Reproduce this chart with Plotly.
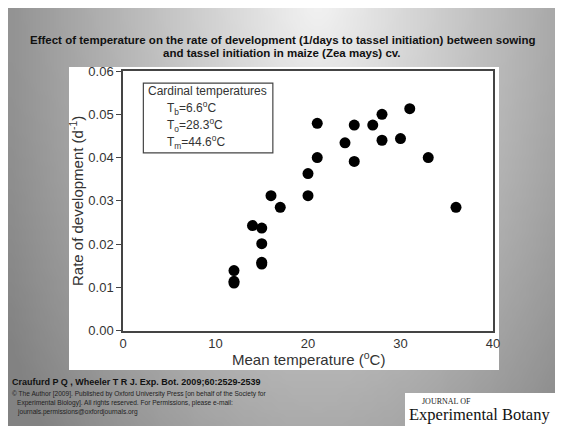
import base64
import struct
import zlib

import plotly.graph_objects as go

W, H = 563, 426
PAGE_OFFSET = 8  # default body margin of the html page

# data
temperature = [12, 12, 12, 14, 15, 15, 15, 15, 16, 17, 20, 20, 21, 21,
               24, 25, 25, 27, 28, 28, 30, 31, 33, 36]
rate = [0.0139, 0.0114, 0.0110, 0.0243, 0.0237, 0.0201, 0.0158, 0.0154,
        0.0312, 0.0285, 0.0363, 0.0312, 0.0479, 0.0400, 0.0434, 0.0475,
        0.0391, 0.0475, 0.0500, 0.0440, 0.0444, 0.0513, 0.0400, 0.0285]
x_ticks = [0, 10, 20, 30, 40]
y_ticks = [0.00, 0.01, 0.02, 0.03, 0.04, 0.05, 0.06]
cardinal_lines = ["T<sub>b</sub>=6.6<sup>o</sup>C",
                  "T<sub>o</sub>=28.3<sup>o</sup>C",
                  "T<sub>m</sub>=44.6<sup>o</sup>C"]
title_lines = [
    "Effect of temperature on the rate of development (1/days to tassel initiation) between sowing",
    "and tassel initiation in maize (Zea mays) cv.",
]
copyright_lines = [
    "© The Author [2009]. Published by Oxford University Press [on behalf of the Society for",
    "Experimental Biology]. All rights reserved. For Permissions, please e-mail:",
    "journals.permissions@oxfordjournals.org",
]


def _gradient_png(w=80, h=60):
    """Small grey radial gradient as a PNG data URI (slide background)."""
    rows = b""
    for j in range(h):
        rows += b"\x00"
        for i in range(w):
            dx = (i / (w - 1) - 0.55) / 0.6
            dy = (j / (h - 1) + 0.05) / 1.5
            d = (dx * dx + dy * dy) ** 0.5
            v = int(max(130, min(242, 244 - 105 * d)))
            rows += bytes((v, v, v))

    def chunk(tag, data):
        c = tag + data
        return struct.pack(">I", len(data)) + c + struct.pack(">I", zlib.crc32(c) & 0xffffffff)

    png = b"\x89PNG\r\n\x1a\n"
    png += chunk(b"IHDR", struct.pack(">IIBBBBB", w, h, 8, 2, 0, 0, 0))
    png += chunk(b"IDAT", zlib.compress(rows, 9))
    png += chunk(b"IEND", b"")
    return "data:image/png;base64," + base64.b64encode(png).decode()


def px_x(p):
    return (p - PAGE_OFFSET) / W


def px_y(p):
    return 1 - (p - PAGE_OFFSET) / H


fig = go.Figure(go.Scatter(
    x=temperature, y=rate, mode="markers",
    marker=dict(color="black", size=11),
    showlegend=False,
))

axis_common = dict(
    showgrid=False, zeroline=False, showline=True, mirror=True, automargin=False,
    linecolor="#444", linewidth=1.5, ticks="outside", ticklen=5,
    tickcolor="#444", tickfont=dict(family="Liberation Sans", size=13, color="#333"),
)

fig.update_layout(
    width=W, height=H,
    autosize=False,
    margin=dict(l=0, r=0, t=0, b=0, pad=0),
    paper_bgcolor="#b0b0b0",
    plot_bgcolor="rgba(0,0,0,0)",
    xaxis=dict(axis_common, range=[0, 40], tickvals=x_ticks, ticks="",
               domain=[px_x(123), px_x(493)]),
    yaxis=dict(axis_common, range=[0, 0.06], tickvals=y_ticks, tickformat=".2f",
               domain=[px_y(330.7), px_y(71)]),
    images=[dict(
        source=_gradient_png(), xref="paper", yref="paper",
        x=0, y=1, sizex=1, sizey=1, sizing="stretch", layer="below",
    )],
    shapes=[
        # white slide panel behind the chart
        dict(type="rect", xref="paper", yref="paper", layer="below",
             x0=px_x(69), x1=px_x(499), y0=px_y(370), y1=px_y(67),
             fillcolor="white", line=dict(width=0)),
        # cardinal temperatures box
        dict(type="rect", xref="x", yref="y",
             x0=2.2, x1=16.2, y0=0.0411, y1=0.0572,
             line=dict(color="#444", width=1.2)),
        # journal logo panel
        dict(type="rect", xref="paper", yref="paper",
             x0=px_x(405), x1=px_x(561), y0=px_y(426), y1=px_y(393),
             fillcolor="white", line=dict(width=0)),
    ],
)

annotations = [
    dict(text="<b>%s</b>" % title_lines[0], x=px_x(282), y=px_y(39.5), xanchor="center",
         font=dict(size=11.5, color="#111")),
    dict(text="<b>%s</b>" % title_lines[1], x=px_x(282), y=px_y(53), xanchor="center",
         font=dict(size=11.5, color="#111")),
    dict(text="Mean temperature (<sup>o</sup>C)", x=px_x(308), y=px_y(358), xanchor="center",
         font=dict(size=15, color="#333")),
    dict(text="Rate of development (d<sup>-1</sup>)", x=px_x(76), y=px_y(201), xanchor="center",
         textangle=-90, font=dict(size=15, color="#333")),
    dict(text="Cardinal temperatures", x=px_x(146), y=px_y(91),
         font=dict(size=12, color="#333")),
    dict(text="<b>Craufurd P Q , Wheeler T R J. Exp. Bot. 2009;60:2529-2539</b>",
         x=px_x(10), y=px_y(382), font=dict(size=9, color="#111")),
    dict(text="JOURNAL OF", x=px_x(420), y=px_y(401.5),
         font=dict(family="Liberation Serif", size=8, color="#222")),
    dict(text="Experimental Botany", x=px_x(407), y=px_y(414.5),
         font=dict(family="Liberation Serif", size=16.5, color="#111")),
]
for i, line in enumerate(cardinal_lines):
    annotations.append(dict(text=line, x=px_x(165), y=px_y(108 + 17 * i),
                            font=dict(size=12, color="#333")))
for line, lx, ly in zip(copyright_lines, [10, 15, 15], [394, 403, 411.5]):
    annotations.append(dict(text=line, x=px_x(lx), y=px_y(ly),
                            font=dict(size=6.6, color="#222")))

for a in annotations:
    a.setdefault("xref", "paper")
    a.setdefault("yref", "paper")
    a.setdefault("xanchor", "left")
    a.setdefault("yanchor", "middle")
    a.setdefault("showarrow", False)
    a["font"].setdefault("family", "Liberation Sans")
fig.update_layout(annotations=annotations)

fig.write_html("out.html")
